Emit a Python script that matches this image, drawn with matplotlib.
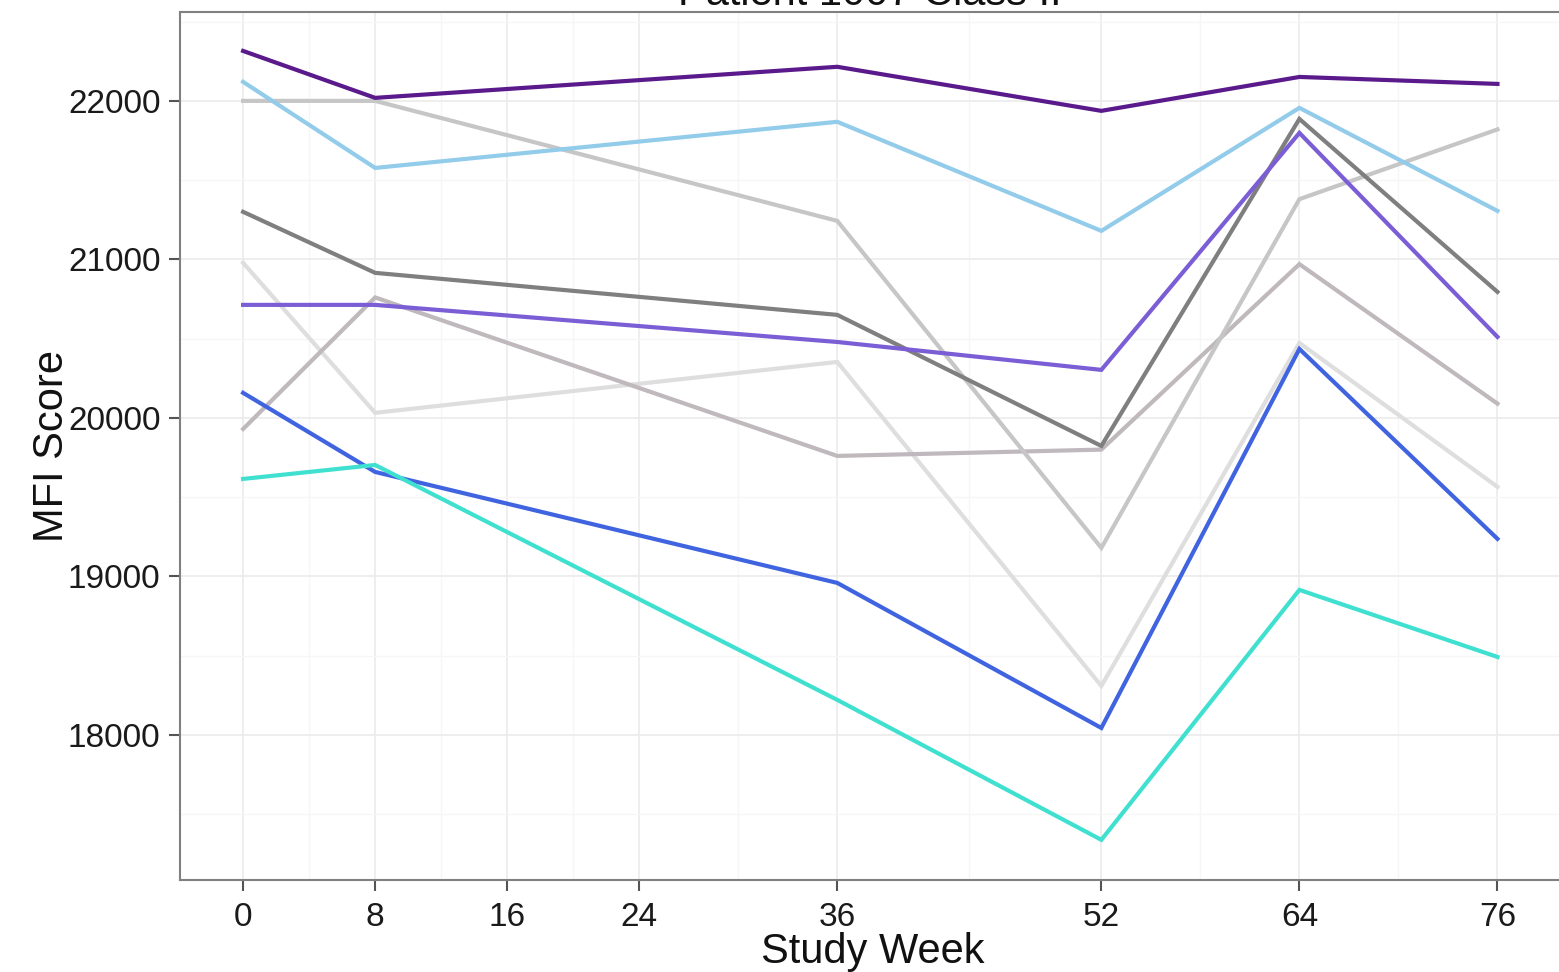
import matplotlib
matplotlib.use("Agg")
import matplotlib.pyplot as plt
from matplotlib.ticker import FixedLocator

plt.rcParams['font.family'] = ['Liberation Sans', 'DejaVu Sans']

weeks = [0, 8, 36, 52, 64, 76]
x_ticks = [0, 8, 16, 24, 36, 52, 64, 76]
x_minor = [4, 12, 20, 30, 44, 58, 70]
y_ticks = [18000, 19000, 20000, 21000, 22000]
y_minor = [17500, 18500, 19500, 20500, 21500, 22500]

s_verylight = [20978, 20032, 20353, 18309, 20473, 19565]
s_graypink = [19930, 20760, 19760, 19800, 20970, 20090]
s_lightgray = [22000, 22000, 21243, 19180, 21380, 21820]
s_darkgray = [21300, 20915, 20650, 19823, 21886, 20795]
s_skyblue = [22120, 21577, 21868, 21180, 21956, 21306]
s_medpurple = [20713, 20713, 20479, 20303, 21798, 20511]
s_blue = [20158, 19659, 18959, 18044, 20435, 19237]
s_turquoise = [19615, 19703, 18221, 17338, 18915, 18492]
s_darkpurple = [22315, 22019, 22215, 21937, 22151, 22107]

series = [
    (s_verylight, "#DEDEDE"),
    (s_graypink, "#BFB8BC"),
    (s_lightgray, "#C6C6C6"),
    (s_darkgray, "#7F7F7F"),
    (s_skyblue, "#93CCEA"),
    (s_medpurple, "#7B5ED6"),
    (s_blue, "#4064E0"),
    (s_turquoise, "#40E0D0"),
    (s_darkpurple, "#5A1A8C"),
]

fig = plt.figure(figsize=(15.59, 9.72), dpi=100)
ax = fig.add_axes([0.1155, 0.0947, 0.8880, 0.8930])

for vals, col in series:
    ax.plot(weeks, vals, color=col, lw=3.0, solid_joinstyle='miter', zorder=3)

ax.set_xlim(-3.82, 80.06)
ax.set_ylim(17085, 22561)
ax.xaxis.set_major_locator(FixedLocator(x_ticks))
ax.xaxis.set_minor_locator(FixedLocator(x_minor))
ax.yaxis.set_major_locator(FixedLocator(y_ticks))
ax.yaxis.set_minor_locator(FixedLocator(y_minor))
ax.set_xticklabels([str(t) for t in x_ticks])
ax.set_yticklabels([str(t) for t in y_ticks])

ax.grid(which='major', color='#EBEBEB', lw=1.2, zorder=0)
ax.grid(which='minor', color='#F6F6F6', lw=1.0, zorder=0)
ax.set_axisbelow(True)

for sp in ax.spines.values():
    sp.set_color('#808080')
    sp.set_linewidth(1.5)

ax.tick_params(which='major', length=8, width=1.5, color='#555555',
               labelsize=24, labelcolor='#1a1a1a', pad=6)
ax.tick_params(axis='x', which='major', pad=8)
ax.tick_params(which='minor', length=0)

ax.set_xlabel("Study Week", fontsize=30, labelpad=-1, color='#111111')
ax.set_ylabel("MFI Score", fontsize=30, labelpad=-3, color='#111111')

fig.text(0.558, 1.006, "Patient 1007 Class II", fontsize=30, ha='center',
         va='center', color='#111111')

fig.savefig("out.png", dpi=100)
